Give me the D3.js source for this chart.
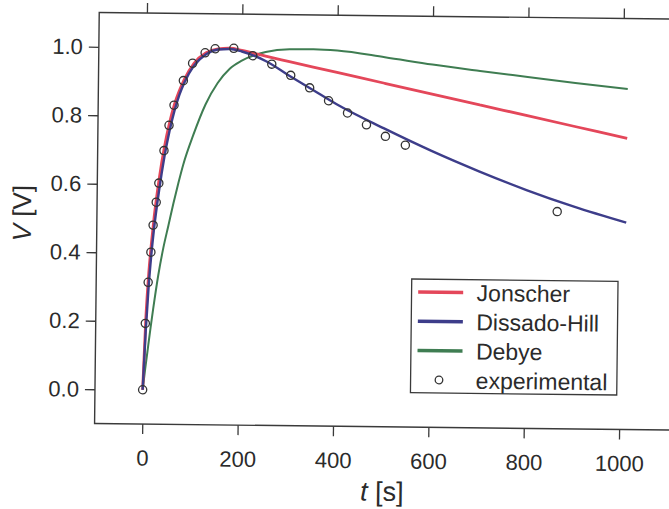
<!DOCTYPE html>
<html>
<head>
<meta charset="utf-8">
<script src="https://cdn.jsdelivr.net/npm/d3@7"></script>
<style>
  html, body { margin: 0; padding: 0; background: #fff; }
  svg { display: block; font-family: "Liberation Sans", Arial, Helvetica, sans-serif; }
</style>
</head>
<body>
<svg id="chart" width="669" height="509"></svg>
<script>
// Time grid shared by the three model curves (s)
const tModel = [0, 5, 10, 15, 20, 30, 40, 50, 60, 70, 80, 100, 125, 150, 175, 200,
                250, 300, 350, 400, 500, 600, 700, 800, 900, 1010];

// Model responses V(t) [V]
const vJonscher = [0, 0.21, 0.34, 0.43, 0.505, 0.62, 0.71, 0.78, 0.835, 0.875, 0.908, 0.955, 0.986, 0.998, 1.0, 0.994,
                   0.978, 0.963, 0.948, 0.933, 0.903, 0.873, 0.843, 0.813, 0.783, 0.750];
const vDissadoHill = [0, 0.17, 0.30, 0.395, 0.47, 0.585, 0.68, 0.755, 0.815, 0.862, 0.898, 0.948, 0.982, 0.996, 0.998, 0.991,
                      0.964, 0.922, 0.881, 0.840, 0.771, 0.707, 0.649, 0.596, 0.549, 0.504];
const vDebye = [0, 0.063, 0.122, 0.18, 0.235, 0.335, 0.415, 0.48, 0.545, 0.605, 0.66, 0.745, 0.835, 0.898, 0.94, 0.964,
                0.99, 0.999, 1.0, 0.997, 0.979, 0.959, 0.942, 0.926, 0.91, 0.894];

// Measured points
const tExp = [0, 4, 9, 14, 18, 24, 29, 39, 49, 59, 78, 97, 123, 144, 183, 223, 263, 303, 343, 383, 423, 463, 503, 545, 865];
const vExp = [0, 0.194, 0.314, 0.402, 0.481, 0.548, 0.604, 0.699, 0.773, 0.832, 0.904, 0.955, 0.986, 0.998, 1.0,
              0.979, 0.955, 0.923, 0.887, 0.850, 0.815, 0.781, 0.748, 0.723, 0.534];

// Axis ticks
const xTicks = [0, 200, 400, 600, 800, 1000];
const yTicks = [0.0, 0.2, 0.4, 0.6, 0.8, 1.0];

const seriesNames = ["Jonscher", "Dissado-Hill", "Debye", "experimental"];
const seriesColors = ["#e4475a", "#3d3d8a", "#3f7d52"];

const svg = d3.select("#chart");
svg.append("rect").attr("width", 669).attr("height", 509).attr("fill", "#fff");

// whole figure sits slightly tilted
const g = svg.append("g").attr("transform", "rotate(0.65,360,220)");

const x = d3.scaleLinear().domain([-100, 1120]).range([96.9, 678.7]);
const y = d3.scaleLinear().domain([-0.1, 1.1]).range([426.5, 15.5]);

const ink = "#3a3a3a";

// frame
g.append("rect")
  .attr("x", x(-100)).attr("y", y(1.1))
  .attr("width", x(1120) - x(-100)).attr("height", y(-0.1) - y(1.1))
  .attr("fill", "none").attr("stroke", ink).attr("stroke-width", 1.4);

function styleAxis(sel) {
  sel.select(".domain").remove();
  sel.selectAll(".tick line").attr("stroke", ink).attr("stroke-width", 1.3);
  sel.selectAll(".tick text").attr("fill", "#2b2b2b")
     .style("font-size", "22px").style("font-family", "'Liberation Sans', Arial, sans-serif");
}

g.append("g").attr("transform", `translate(0,${y(-0.1)})`)
  .call(d3.axisBottom(x).tickValues(xTicks).tickSize(10).tickPadding(16).tickFormat(d3.format("d")))
  .call(styleAxis);

g.append("g").attr("transform", `translate(0,${y(1.1)})`)
  .call(d3.axisTop(x).tickValues(xTicks).tickSize(10).tickFormat(""))
  .call(styleAxis);

g.append("g").attr("transform", `translate(${x(-100)},0)`)
  .call(d3.axisLeft(y).tickValues(yTicks).tickSize(10).tickPadding(6).tickFormat(d3.format(".1f")))
  .call(styleAxis);

// axis titles
const xt = g.append("text").attr("x", 385).attr("y", 500.5).attr("text-anchor", "middle")
  .attr("fill", "#2b2b2b").style("font-size", "27px");
xt.append("tspan").style("font-style", "italic").text("t");
xt.append("tspan").text(" [s]");

const yt = g.append("text").attr("transform", "translate(31,217) rotate(-90)").attr("text-anchor", "middle")
  .attr("fill", "#2b2b2b").style("font-size", "26px");
yt.append("tspan").style("font-style", "italic").text("V");
yt.append("tspan").text(" [V]");

// model curves
const line = d3.line().x(d => x(d[0])).y(d => y(d[1])).curve(d3.curveMonotoneX);
const curves = [
  { v: vDebye, color: seriesColors[2], w: 2.0 },
  { v: vJonscher, color: seriesColors[0], w: 2.8 },
  { v: vDissadoHill, color: seriesColors[1], w: 2.4 }
];
curves.forEach(c => {
  g.append("path")
    .datum(tModel.map((t, i) => [t, c.v[i]]))
    .attr("d", line)
    .attr("fill", "none")
    .attr("stroke", c.color)
    .attr("stroke-width", c.w)
    .attr("stroke-linejoin", "round");
});

// measured points
g.append("g").selectAll("circle")
  .data(tExp.map((t, i) => [t, vExp[i]]))
  .join("circle")
  .attr("cx", d => x(d[0])).attr("cy", d => y(d[1])).attr("r", 4.1)
  .attr("fill", "none").attr("stroke", "#333").attr("stroke-width", 1.3);

// legend
const lg = g.append("g");
lg.append("rect").attr("x", 412.4).attr("y", 278.4).attr("width", 206.3).attr("height", 113.7)
  .attr("fill", "#fff").attr("stroke", ink).attr("stroke-width", 1.3);
const rowY = [291.4, 320.6, 349.8, 379.1];
seriesNames.forEach((name, i) => {
  if (i < 3) {
    lg.append("line").attr("x1", 419).attr("x2", 464).attr("y1", rowY[i]).attr("y2", rowY[i])
      .attr("stroke", seriesColors[i]).attr("stroke-width", 3.5);
  } else {
    lg.append("circle").attr("cx", 440.8).attr("cy", rowY[i]).attr("r", 3.8)
      .attr("fill", "none").attr("stroke", "#333").attr("stroke-width", 1.3);
  }
  lg.append("text").attr("x", 477.5).attr("y", rowY[i]).attr("dy", "0.36em")
    .attr("fill", "#2b2b2b").style("font-size", "23px").text(name);
});
</script>
</body>
</html>
